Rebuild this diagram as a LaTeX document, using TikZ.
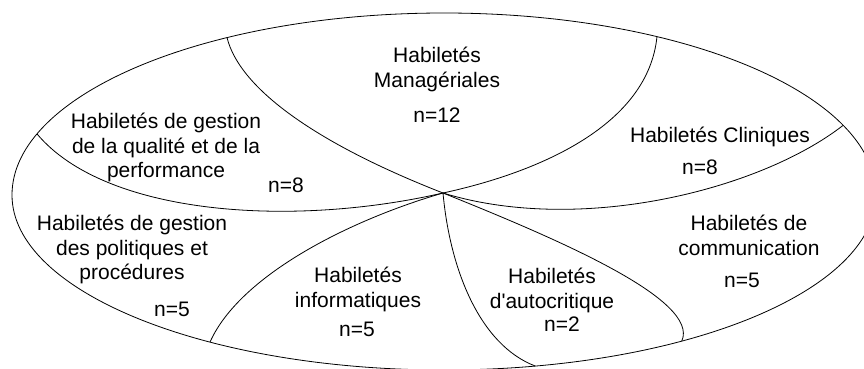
\documentclass[tikz,border=0pt]{standalone}
\usepackage{fontspec}
\setmainfont{Liberation Sans}[Ligatures=TeXOff]
\begin{document}
\begin{tikzpicture}[x=1pt,y=1pt,
  edge/.style={line width=0.8pt, black},
  lbl/.style={font=\fontsize{21pt}{24.5pt}\selectfont, align=center, anchor=north, inner sep=0pt},
]
\useasboundingbox (0,0) rectangle (864,-369);
\clip (0,0) rectangle (864,-369);

% centre of the outer oval and the common meeting point of the dividers
\coordinate (O) at (444,-195);
\coordinate (C) at (443,-193);

% points where the dividers meet the outer oval
\path (O) ++(120.15:432pt and 182pt) coordinate (jml);
\path (O) ++(60.46:432pt and 182pt) coordinate (jmr);
\path (O) ++(22.5:432pt and 182pt) coordinate (jcl);
\path (O) ++(160.4:432pt and 182pt) coordinate (jq);
\path (O) ++(237.2:432pt and 175pt) coordinate (jinf);
\path (O) ++(282.2:432pt and 175pt) coordinate (jaut);
\path (O) ++(303.4:432pt and 175pt) coordinate (jcom);

% outer oval: upper and lower halves
\draw[edge] (O) ++(-432pt,0)
  arc[start angle=180, end angle=0, x radius=432pt, y radius=182pt]
  arc[start angle=0, end angle=-180, x radius=432pt, y radius=175pt] -- cycle;

% dividers between the skill groups
\draw[edge] (jml) .. controls (240,-90) and (320,-145) .. (C);
\draw[edge] (jmr) .. controls (648,-125) and (540,-172) .. (C);
\draw[edge] (jq) .. controls (105,-215) and (290,-228) .. (C);
\draw[edge] (C) .. controls (350,-220) and (240,-275) .. (jinf);
\draw[edge] (C) .. controls (450,-270) and (480,-345) .. (jaut);
\draw[edge] (C) .. controls (560,-240) and (700,-300) .. (jcom);
\draw[edge] (C) .. controls (580,-235) and (760,-190) .. (jcl);

% group names and counts
\node[lbl] (mgr) at (437,-47) {Habiletés\\Managériales};
\node[lbl] (mgrn) at (437,-108) {n=12};
\node[lbl] (cli) at (720,-127) {Habiletés Cliniques};
\node[lbl] (clin) at (700,-160) {n=8};
\node[lbl] (qua) at (166,-113) {Habiletés de gestion\\de la qualité et de la\\performance};
\node[lbl] (quan) at (286,-178) {n=8};
\node[lbl] (pol) at (132,-215) {Habiletés de gestion\\des politiques et\\procédures};
\node[lbl] (poln) at (172,-302) {n=5};
\node[lbl] (inf) at (358,-267) {Habiletés\\informatiques};
\node[lbl] (infn) at (357,-322) {n=5};
\node[lbl] (aut) at (552,-268) {Habiletés\\d'autocritique};
\node[lbl] (autn) at (562,-317) {n=2};
\node[lbl] (com) at (749,-215) {Habiletés de\\communication};
\node[lbl] (comn) at (742,-273) {n=5};
\end{tikzpicture}
\end{document}
